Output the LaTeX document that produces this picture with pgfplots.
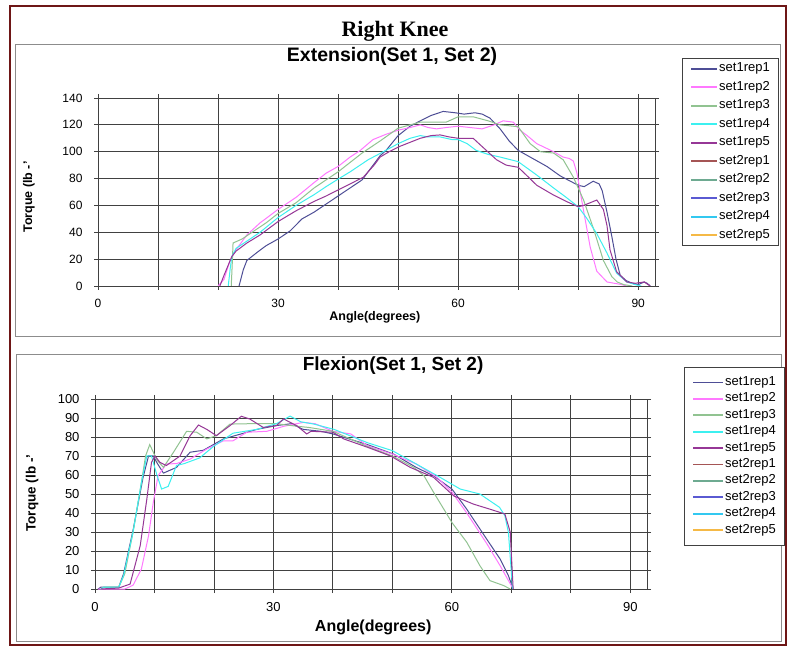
\documentclass[border=0pt]{standalone}
\usepackage{fontspec}
\setmainfont{Liberation Sans}
\newfontfamily\titlefont{Liberation Serif}
\usepackage{pgfplots}
\pgfplotsset{compat=1.18}

\definecolor{framec}{RGB}{110,22,22}
\definecolor{boxgray}{RGB}{140,140,140}
\definecolor{gridc}{RGB}{65,65,65}
\definecolor{sArA}{RGB}{78,78,150}
\definecolor{sArB}{RGB}{255,120,255}
\definecolor{sArC}{RGB}{145,195,145}
\definecolor{sArD}{RGB}{60,240,240}
\definecolor{sArE}{RGB}{150,55,150}
\definecolor{sBrA}{RGB}{165,85,85}
\definecolor{sBrB}{RGB}{110,170,145}
\definecolor{sBrC}{RGB}{90,90,210}
\definecolor{sBrD}{RGB}{50,200,240}
\definecolor{sBrE}{RGB}{245,185,70}

\pgfplotsset{
  kneeaxis/.style={
    scale only axis,
    xmin=0, xmax=92.8, ymin=0,
    grid=major,
    major grid style={gridc, line width=0.9pt},
    axis line style={gridc, line width=0.9pt},
    tick align=outside,
    major tick length=4pt,
    tick style={gridc, line width=0.9pt},
    xtick={0,10,...,90},
    xticklabels={0,,,30,,,60,,,90},
    /pgf/number format/assume math mode=true,
    every axis plot/.append style={line width=1pt, no markers},
    legend cell align=left,
    legend entries={set1rep1,set1rep2,set1rep3,set1rep4,set1rep5,
                    set2rep1,set2rep2,set2rep3,set2rep4,set2rep5},
  }
}

\begin{document}
\begin{tikzpicture}[x=1pt,y=1pt]
\path[fill=white] (0,0) rectangle (791,647);
\draw[framec, line width=2.5pt] (10,641) rectangle (786,2);
\draw[boxgray, line width=1pt] (15,602) rectangle (780,310);
\draw[boxgray, line width=1pt] (16,292) rectangle (781,6);
\node[anchor=base, font=\titlefont\bfseries\fontsize{22}{22}\selectfont] at (395,610) {Right Knee};

% Extension
\begin{axis}[
  kneeaxis,
  at={(98pt,361pt)}, anchor=south west,
  width=557pt, height=188pt,
  ymax=140, ytick={0,20,...,140},
  tick label style={font=\fontsize{12}{12}\selectfont},
  xticklabel style={yshift=-6pt},
  yticklabel style={xshift=-8pt},
  title={Extension(Set 1, Set 2)},
  title style={at={(rel axis cs:0.528,1.160)}, anchor=base,
    font=\bfseries\fontsize{19.5}{19.5}\selectfont},
  xlabel={Angle(degrees)},
  xlabel style={at={(rel axis cs:0.497,-0.186)}, anchor=base,
    font=\bfseries\fontsize{12.5}{12.5}\selectfont},
  ylabel={Torque (lb -'},
  ylabel style={at={(rel axis cs:-0.124,0.473)}, anchor=center,
    font=\bfseries\fontsize{12.5}{12.5}\selectfont},
  legend style={at={(1.0485,1.2128)}, anchor=north west,
    draw=gridc, line width=0.8pt,
    font=\fontsize{13}{13}\selectfont,
    inner xsep=8pt, inner ysep=3.4pt, row sep=4.5pt,
    nodes={inner sep=1pt, text height=9pt, text depth=3pt}},
  legend image code/.code={\draw[#1, line width=1.8pt] (0pt,0pt) -- (26pt,0pt);},
]
\addplot[draw=sArA] coordinates {(23.5,0)(24.2,12)(24.8,19)(26.5,25)(28,30)(30,35)(32,41)(34,50)(36,55)(38,61)(40,67)(42,73)(44,79)(45.5,88)(47,97)(48,101)(50,112)(52,119)(53.7,123)(55.5,127)(57.5,130)(59.5,129)(61,128)(62.8,129)(64,128)(65.3,125)(67,117)(68.5,108)(70,101)(72,96)(74.8,89)(77,82)(80,75)(81,74)(82.5,78)(83.5,76)(84,71)(84.8,55)(85.6,37)(86.3,20)(87,8)(88,4)(89,2)(90,1)(91,3)(91.5,2)(92,0)};
\addplot[draw=sArB] coordinates {(20,0)(21,5)(22,19)(23,27)(24.8,38)(27,47)(30,57)(33,66)(36,77)(38,84)(40,89)(42,96)(43.7,101)(45.8,109)(48,113)(50,116)(52,118)(53.7,120)(55,118)(56.4,117)(58,118)(60,119)(62,118)(64,117)(66,120)(67.5,123)(69.2,122)(70.3,116)(71.5,112)(73.1,106)(75.9,100)(77.5,96)(78.5,95)(79.2,93)(79.8,84)(80.9,56)(82,29)(83.1,11)(84.8,3)(87.3,1)(88,0)};
\addplot[draw=sArC] coordinates {(22.2,0)(22.4,20)(22.5,32)(24,35)(26,41)(28,47)(30,54)(33,62)(36,73)(38,79)(40,85)(42,92)(44,99)(47,108)(50,117.5)(52,120)(53.7,122)(56,122)(58,122)(60,126)(62.5,126)(65,123)(67,120)(70,118.6)(72,106)(73.7,100)(75.9,99)(77.5,94)(79.2,81)(80.9,64)(82.6,42)(84.2,19)(85.6,7)(86.5,3)(87.6,1)(89,0)};
\addplot[draw=sArD] coordinates {(21.7,0)(22,12)(22.3,22)(23,28)(25,34)(27,40)(30,51)(33,60)(36,68)(38,74)(40,79.6)(42,85)(45,94)(47,98.7)(50,106)(52,110)(53.7,112)(55,111)(57,111)(59,109)(60,109)(61.5,106)(63,101)(65,98)(67,96)(70,92.6)(73.1,82.6)(75.9,73)(78,66)(80,59)(81.4,50.6)(83.1,39)(84.8,24.5)(86.4,9.6)(88.1,3)(89.5,1)(90.5,0)};
\addplot[draw=sArE] coordinates {(20.3,0)(21,8)(22.3,22)(23,26)(24.8,32)(27,38)(30,48)(33,56)(36,63)(38,67)(40,71.5)(42,76)(44.2,81)(46,90)(47,96)(48.5,100)(50.3,104)(52,107)(53.7,110)(55.5,112)(57,112.5)(58.5,111)(60,110)(62.5,110)(64.2,103)(66.4,94)(68,90)(70,88.4)(71.5,82)(73.1,75)(75.9,67.7)(78.1,62.8)(80,59)(80.9,60)(82,62)(83.1,64)(84.2,57)(84.8,45)(85.3,27)(86.4,10.6)(88.1,3)(89.5,2)(91,3)(92,0)};
\addlegendimage{draw=sBrA}
\addlegendimage{draw=sBrB}
\addlegendimage{draw=sBrC}
\addlegendimage{draw=sBrD}
\addlegendimage{draw=sBrE}
\end{axis}

% Flexion
\begin{axis}[
  kneeaxis,
  at={(95pt,58pt)}, anchor=south west,
  width=552pt, height=190pt,
  ymax=100, ytick={0,10,...,100},
  tick label style={font=\fontsize{13}{13}\selectfont},
  xticklabel style={yshift=-6pt},
  yticklabel style={xshift=-8pt},
  title={Flexion(Set 1, Set 2)},
  title style={at={(rel axis cs:0.540,1.116)}, anchor=base,
    font=\bfseries\fontsize{19}{19}\selectfont},
  xlabel={Angle(degrees)},
  xlabel style={at={(rel axis cs:0.504,-0.226)}, anchor=base,
    font=\bfseries\fontsize{16}{16}\selectfont},
  ylabel={Torque (lb -'},
  ylabel style={at={(rel axis cs:-0.114,0.505)}, anchor=center,
    font=\bfseries\fontsize{13.5}{13.5}\selectfont},
  legend style={at={(1.067,1.168)}, anchor=north west,
    draw=gridc, line width=0.8pt,
    font=\fontsize{13}{13}\selectfont,
    inner xsep=8pt, inner ysep=8pt, row sep=2.4pt,
    nodes={inner sep=1pt, text height=9pt, text depth=3pt}},
  legend image code/.code={\draw[#1, line width=1.8pt] (0pt,0pt) -- (30pt,0pt);},
]
\addplot[draw=sArA] coordinates {(0.5,0)(1,1)(4,1)(4.8,8)(6.4,31)(8.1,59)(9,70)(9.8,70)(10.5,66)(11.5,61)(13.7,64)(16,72)(18.2,73)(21.6,79)(25,82)(27.2,84)(30.5,86)(33,87)(35,84)(38,83)(40,81.6)(45.8,76)(50.2,71)(54,64)(56.9,59.6)(60,52.6)(62.5,42)(65.9,26)(68.1,15.8)(69.5,7)(70.3,0)};
\addplot[draw=sArB] coordinates {(0.5,0)(5,0)(6.4,2)(7.8,10.5)(9,28)(9.8,45.6)(10.6,59.6)(12,65.8)(13.7,66)(16,68.4)(18.8,73.7)(21.6,78)(23.2,78)(25.5,82.5)(28.9,83)(31.7,85.6)(35,87.7)(37,87)(40,83)(43,81.6)(45.8,75.4)(50,71)(54,65.8)(57.5,58.8)(60,51)(62.5,40)(65.9,23.7)(68.1,12.3)(70.3,0)};
\addplot[draw=sArC] coordinates {(1,0)(1.5,1)(4,1)(5,8)(6.4,30)(7.8,56)(8.5,70)(9.2,76)(10.4,68)(11.5,64)(13.2,72)(15.4,83)(17.1,82.5)(18.8,79)(20.4,80.7)(22.7,86.8)(26,87)(30.5,87)(33,86)(36,85)(40,83)(45.8,75)(50,70)(53.6,64)(55.3,59.6)(56.9,51)(60,35)(62.5,24.6)(64.7,12.3)(66.4,4.4)(68.7,1.8)(69.8,0)};
\addplot[draw=sArD] coordinates {(1,0)(1.5,1)(4,1)(4.8,7)(6.4,30)(7.8,56)(8.7,70)(9.5,70)(10.4,60)(11.2,52.6)(12.3,54)(13.7,65)(15,66)(17.6,69)(19.9,75)(23.2,82)(27.2,84)(30.5,87)(32.8,91)(34.6,88)(36.8,86.8)(40.2,84)(45.8,77)(50,72.8)(54,65.8)(58,58.8)(61.4,52.6)(64.7,50)(68,43)(68.9,38.6)(69.5,29.8)(70.2,0)};
\addplot[draw=sArE] coordinates {(1,0)(4,0.5)(5.9,2.6)(7.6,22.8)(8.7,47)(9.5,66.7)(10.1,70)(10.9,66.7)(12,65)(14.3,70)(16,80.7)(17.4,86.3)(18.8,84)(20.4,80.7)(22.7,86)(24.6,90.9)(26,89.5)(28.3,85)(30.5,86)(31.7,89.5)(33.9,86)(35.6,81.6)(36.3,83)(40,82.5)(41.8,79)(45.8,74.6)(49.7,70)(53,64)(56.9,58.8)(60.3,49)(63.6,44.7)(66.4,42)(68.9,39.5)(69.8,30)(70.3,0)};
\addlegendimage{draw=sBrA}
\addlegendimage{draw=sBrB}
\addlegendimage{draw=sBrC}
\addlegendimage{draw=sBrD}
\addlegendimage{draw=sBrE}
\end{axis}
\end{tikzpicture}
\end{document}
